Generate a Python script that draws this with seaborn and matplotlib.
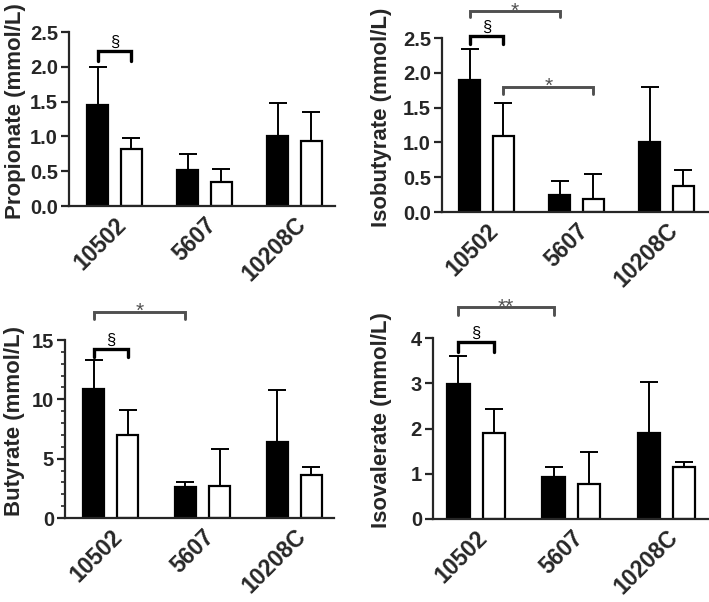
import matplotlib
matplotlib.use("Agg")
import matplotlib.pyplot as plt
import seaborn as sns
import numpy as np
import pandas as pd
from matplotlib.ticker import MultipleLocator

strains = ["10502", "5607", "10208C"]
conditions = ["Condition 1", "Condition 2"]

# mean and upper SD per strain, filled bars (condition 1) and open bars (condition 2)
propionate_c1 = [1.45, 0.52, 1.01]
propionate_c1_sd = [0.55, 0.22, 0.47]
propionate_c2 = [0.82, 0.345, 0.93]
propionate_c2_sd = [0.16, 0.18, 0.42]

isobutyrate_c1 = [1.90, 0.24, 1.01]
isobutyrate_c1_sd = [0.44, 0.20, 0.79]
isobutyrate_c2 = [1.09, 0.19, 0.37]
isobutyrate_c2_sd = [0.48, 0.36, 0.23]

butyrate_c1 = [10.9, 2.6, 6.4]
butyrate_c1_sd = [2.4, 0.4, 4.4]
butyrate_c2 = [7.0, 2.7, 3.6]
butyrate_c2_sd = [2.1, 3.1, 0.7]

isovalerate_c1 = [2.98, 0.92, 1.91]
isovalerate_c1_sd = [0.62, 0.22, 1.12]
isovalerate_c2 = [1.91, 0.78, 1.16]
isovalerate_c2_sd = [0.52, 0.71, 0.11]

# brackets: (strain_a, cond_a, strain_b, cond_b, bar level, leg end, label, colour)
propionate_sig = [(0, 0, 0, 1, 2.23, 2.08, "§", "black")]
isobutyrate_sig = [(0, 0, 0, 1, 2.53, 2.41, "§", "black"),
                   (0, 0, 1, 0, 2.89, 2.80, "*", "#505050"),
                   (0, 1, 1, 1, 1.80, 1.70, "*", "#505050")]
butyrate_sig = [(0, 0, 0, 1, 14.2, 13.6, "§", "black"),
                (0, 0, 1, 0, 17.4, 16.8, "*", "#505050")]
isovalerate_sig = [(0, 0, 0, 1, 3.92, 3.70, "§", "black"),
                   (0, 0, 1, 0, 4.69, 4.50, "**", "#505050")]

sns.set_style("ticks")
plt.rcParams["font.family"] = ["Liberation Sans", "DejaVu Sans"]
plt.rcParams["font.weight"] = "bold"


def make_df(c1, c2):
    return pd.DataFrame({
        "strain": strains * 2,
        "condition": [conditions[0]] * 3 + [conditions[1]] * 3,
        "value": c1 + c2,
    })


def panel(fig, rect, c1, c1_sd, c2, c2_sd, sig, ylabel, ylim, yticks, fmt,
          xlim, label_x, minor=None):
    ax = fig.add_axes(rect)
    df = make_df(c1, c2)
    sns.barplot(data=df, x="strain", y="value", hue="condition",
                order=strains, hue_order=conditions,
                palette=["black", "white"], edgecolor="black", linewidth=1.6,
                width=0.74, gap=0.37, errorbar=None, legend=False, ax=ax)
    centers = []
    for cont, sd in zip(ax.containers, [c1_sd, c2_sd]):
        xs = [p.get_x() + p.get_width() / 2 for p in cont.patches]
        hs = [p.get_height() for p in cont.patches]
        centers.append(xs)
        ax.errorbar(xs, hs, yerr=[np.zeros(len(sd)), sd], fmt="none",
                    ecolor="black", elinewidth=1.4, capsize=6.5, capthick=1.4,
                    zorder=1)
    for (sa, ca, sb, cb, yb, yl, lab, col) in sig:
        x1 = centers[ca][sa]
        x2 = centers[cb][sb]
        ax.plot([x1, x1, x2, x2], [yl, yb, yb, yl], color=col,
                lw=2.4 if lab == "§" else 2.1,
                clip_on=False, solid_joinstyle="miter")
        if lab == "§":
            ax.annotate(lab, xy=((x1 + x2) / 2, yb), xytext=(0, 3),
                        textcoords="offset points", ha="center",
                        va="baseline", color=col, fontsize=12,
                        fontweight="normal", annotation_clip=False)
        else:
            ax.annotate(lab, xy=((x1 + x2) / 2, yb), xytext=(0, -4),
                        textcoords="offset points", ha="center",
                        va="baseline", color=col, fontsize=15,
                        fontweight="normal", annotation_clip=False)
    ax.set_xlim(*xlim)
    ax.set_ylim(*ylim)
    ax.set_yticks(yticks)
    ax.set_yticklabels([fmt.format(t) for t in yticks], fontsize=14.5,
                       fontweight="bold")
    if minor:
        ax.yaxis.set_minor_locator(MultipleLocator(minor))
        ax.tick_params(axis="y", which="minor", length=3, width=1.2)
    ax.set_xlabel("")
    ax.set_ylabel(ylabel, fontsize=16, fontweight="bold")
    ax.yaxis.set_label_coords(label_x, 0.545)
    ax.set_xticks(range(len(strains)))
    ax.set_xticklabels(strains, rotation=45, ha="right", va="top",
                       rotation_mode="anchor", fontsize=16.5, fontweight="bold")
    ax.tick_params(axis="y", which="major", length=6, width=1.6, pad=2)
    ax.tick_params(axis="x", length=0, pad=5)
    for s in ["left", "bottom"]:
        ax.spines[s].set_linewidth(1.6)
    sns.despine(ax=ax)
    return ax


fig = plt.figure(figsize=(7.09, 6.02), dpi=100)

panel(fig, [69 / 709, 396 / 602, 266 / 709, 174 / 602],
      propionate_c1, propionate_c1_sd, propionate_c2, propionate_c2_sd,
      propionate_sig, "Propionate (mmol/L)", (0, 2.5),
      [0.0, 0.5, 1.0, 1.5, 2.0, 2.5], "{:.1f}", (-0.506, 2.45), -0.162)

panel(fig, [442 / 709, 390 / 602, 267 / 709, 174 / 602],
      isobutyrate_c1, isobutyrate_c1_sd, isobutyrate_c2, isobutyrate_c2_sd,
      isobutyrate_sig, "Isobutyrate (mmol/L)", (0, 2.5),
      [0.0, 0.5, 1.0, 1.5, 2.0, 2.5], "{:.1f}", (-0.494, 2.47), -0.187)

panel(fig, [65 / 709, 84 / 602, 269 / 709, 178 / 602],
      butyrate_c1, butyrate_c1_sd, butyrate_c2, butyrate_c2_sd,
      butyrate_sig, "Butyrate (mmol/L)", (0, 15),
      [0, 5, 10, 15], "{:.0f}", (-0.495, 2.43), -0.149, minor=1)

panel(fig, [433 / 709, 83 / 602, 276 / 709, 181 / 602],
      isovalerate_c1, isovalerate_c1_sd, isovalerate_c2, isovalerate_c2_sd,
      isovalerate_sig, "Isovalerate (mmol/L)", (0, 4),
      [0, 1, 2, 3, 4], "{:.0f}", (-0.453, 2.45), -0.149)

fig.savefig("out.png", dpi=100, facecolor="white")
